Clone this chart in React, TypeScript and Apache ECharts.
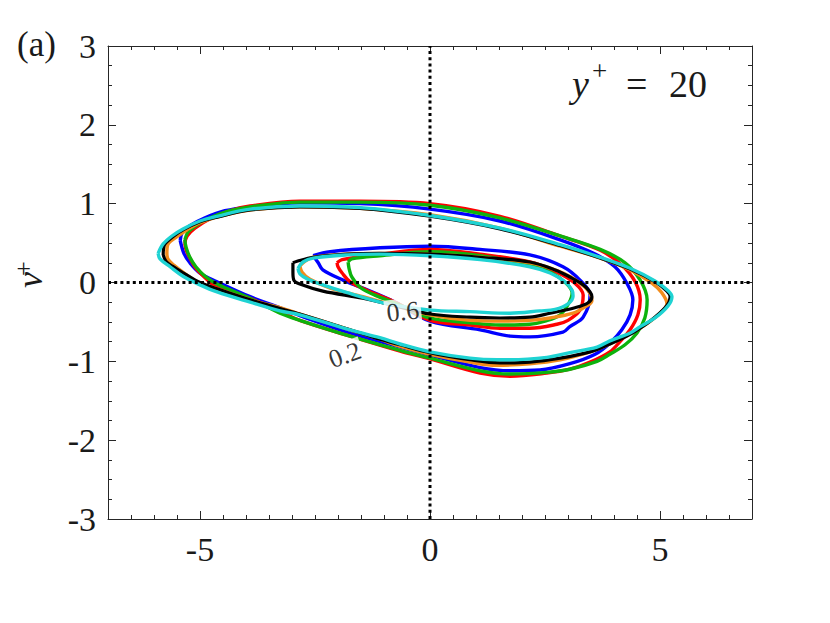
import React, { useEffect, useRef } from 'react';
import * as echarts from 'echarts';

// Tick labels
const xTickLabels = [-5, 0, 5];
const yTickLabels = [-3, -2, -1, 0, 1, 2, 3];

// Outer (0.2) contours
const outerBlue = [[-5.43,0.53],[-5.39,0.63],[-5.22,0.72],[-4.89,0.82],[-4.46,0.91],[-3.91,0.96],[-2.83,1.01],[-1.52,1.00],[0,0.93],[1.52,0.78],[2.83,0.54],[3.59,0.36],[4.02,0.20],[4.28,-0.01],[4.41,-0.22],[4.35,-0.41],[4.17,-0.60],[3.91,-0.77],[3.59,-0.91],[3.04,-1.03],[2.39,-1.11],[1.74,-1.12],[1.09,-1.08],[0,-0.92],[-0.65,-0.82],[-1.74,-0.64],[-2.83,-0.42],[-3.26,-0.32],[-3.91,-0.18],[-4.63,0.01],[-5.00,0.12],[-5.22,0.25],[-5.35,0.37]];
const outerRed = [[-5.33,0.50],[-5.28,0.59],[-5.11,0.69],[-4.78,0.81],[-4.35,0.91],[-3.91,0.97],[-2.83,1.03],[-1.52,1.03],[0,1.00],[1.52,0.84],[2.83,0.59],[3.70,0.41],[4.17,0.22],[4.46,0.01],[4.57,-0.22],[4.52,-0.41],[4.35,-0.60],[4.13,-0.75],[3.91,-0.88],[3.48,-1.01],[3.04,-1.10],[2.54,-1.15],[1.74,-1.19],[1.09,-1.15],[0,-0.97],[-0.65,-0.87],[-1.74,-0.68],[-2.83,-0.48],[-3.26,-0.37],[-3.91,-0.20],[-4.63,-0.06],[-4.89,0.06],[-5.09,0.18],[-5.22,0.31],[-5.30,0.41]];
const outerGreen = [[-5.33,0.54],[-5.26,0.64],[-5.07,0.73],[-4.78,0.82],[-4.35,0.91],[-3.91,0.96],[-2.83,1.02],[-1.52,1.02],[0,0.98],[1.52,0.82],[2.83,0.59],[3.70,0.42],[4.24,0.25],[4.57,0.03],[4.72,-0.22],[4.67,-0.45],[4.50,-0.64],[4.24,-0.79],[3.91,-0.91],[3.63,-1.00],[3.04,-1.10],[2.54,-1.14],[1.74,-1.16],[1.09,-1.12],[0,-0.96],[-0.65,-0.86],[-1.74,-0.68],[-2.83,-0.48],[-3.26,-0.39],[-3.91,-0.20],[-4.63,-0.02],[-4.89,0.08],[-5.09,0.20],[-5.22,0.32],[-5.30,0.44]];
const outerOrange = [[-5.72,0.37],[-5.70,0.48],[-5.50,0.58],[-5.28,0.67],[-5.00,0.76],[-4.63,0.83],[-3.91,0.92],[-2.83,0.96],[-1.52,0.94],[0,0.86],[1.52,0.69],[2.83,0.46],[3.70,0.31],[4.35,0.16],[4.83,-0.01],[5.04,-0.13],[5.15,-0.27],[5.00,-0.39],[4.67,-0.54],[4.35,-0.65],[3.91,-0.78],[3.48,-0.88],[2.83,-0.98],[2.17,-1.03],[1.46,-1.05],[0.87,-1.01],[0,-0.91],[-0.65,-0.81],[-1.09,-0.72],[-1.74,-0.60],[-2.83,-0.40],[-3.26,-0.32],[-3.91,-0.22],[-4.63,-0.08],[-5.00,-0.01],[-5.30,0.10],[-5.57,0.22],[-5.70,0.30]];
const outerBlack = [[-5.80,0.35],[-5.77,0.48],[-5.59,0.58],[-5.36,0.67],[-5.00,0.77],[-4.63,0.83],[-3.91,0.92],[-2.83,0.96],[-1.52,0.94],[0,0.84],[1.52,0.68],[2.83,0.47],[3.70,0.31],[4.35,0.17],[4.89,0.01],[5.15,-0.11],[5.22,-0.18],[5.15,-0.29],[4.89,-0.44],[4.57,-0.58],[4.28,-0.68],[3.91,-0.78],[3.48,-0.88],[2.83,-0.96],[2.17,-1.01],[1.52,-1.02],[0.87,-0.98],[0,-0.89],[-0.65,-0.79],[-1.09,-0.72],[-1.74,-0.60],[-2.83,-0.40],[-3.26,-0.33],[-3.91,-0.22],[-4.63,-0.08],[-5.00,0.00],[-5.33,0.11],[-5.61,0.21],[-5.74,0.27]];
const outerCyan = [[-5.91,0.37],[-5.80,0.49],[-5.61,0.59],[-5.37,0.68],[-5.00,0.78],[-4.63,0.84],[-3.91,0.93],[-2.83,0.97],[-1.52,0.95],[0,0.85],[1.52,0.69],[2.83,0.48],[3.70,0.32],[4.35,0.18],[4.89,0.02],[5.17,-0.10],[5.26,-0.18],[5.17,-0.30],[4.89,-0.45],[4.57,-0.56],[4.35,-0.64],[3.91,-0.74],[3.63,-0.82],[3.04,-0.89],[2.54,-0.95],[1.74,-0.98],[1.46,-0.98],[0.87,-0.96],[0,-0.88],[-0.65,-0.78],[-1.09,-0.70],[-1.74,-0.60],[-2.83,-0.41],[-3.26,-0.36],[-3.91,-0.25],[-4.63,-0.12],[-5.00,-0.03],[-5.37,0.08],[-5.65,0.20],[-5.87,0.30]];

// Inner (0.6) contours
const innerBlue = [[-2.54,0.34],[-2.17,0.39],[-1.09,0.44],[0,0.46],[1.09,0.42],[2.17,0.35],[2.89,0.20],[3.26,0.03],[3.48,-0.16],[3.33,-0.44],[3.04,-0.56],[2.89,-0.63],[2.17,-0.69],[1.74,-0.68],[1.09,-0.60],[0,-0.49],[-0.72,-0.26],[-1.46,-0.07],[-1.89,0.03],[-2.33,0.16],[-2.43,0.25]];
const innerRed = [[-2.02,0.25],[-1.91,0.29],[-1.09,0.36],[0,0.42],[1.09,0.36],[2.17,0.26],[2.76,0.13],[3.15,-0.01],[3.33,-0.16],[3.26,-0.35],[3.00,-0.48],[2.76,-0.53],[2.17,-0.58],[1.52,-0.58],[0.87,-0.54],[0,-0.48],[-0.72,-0.26],[-1.37,-0.10],[-1.74,0.01],[-1.91,0.12],[-2.00,0.20]];
const innerGreen = [[-1.78,0.26],[-1.70,0.30],[-1.09,0.34],[0,0.39],[1.09,0.34],[2.17,0.22],[2.65,0.12],[2.96,-0.01],[3.09,-0.13],[3.02,-0.26],[2.83,-0.41],[2.50,-0.49],[2.17,-0.53],[1.52,-0.54],[0.87,-0.51],[0,-0.45],[-0.72,-0.27],[-1.20,-0.16],[-1.52,-0.06],[-1.70,0.07],[-1.76,0.18]];
const innerOrange = [[-2.83,0.21],[-2.72,0.27],[-2.54,0.32],[-1.80,0.36],[-1.09,0.37],[0,0.36],[1.09,0.32],[2.17,0.25],[2.72,0.16],[3.09,0.06],[3.37,-0.06],[3.48,-0.14],[3.52,-0.23],[3.37,-0.31],[3.11,-0.39],[2.61,-0.45],[2.17,-0.48],[1.52,-0.49],[0.87,-0.48],[0,-0.41],[-0.72,-0.30],[-1.46,-0.18],[-2.17,-0.07],[-2.61,0.04],[-2.78,0.13]];
const innerBlack = [[-2.98,0.25],[-2.89,0.27],[-2.54,0.32],[-1.80,0.36],[-1.09,0.37],[0,0.36],[1.09,0.32],[2.17,0.26],[2.72,0.16],[3.04,0.07],[3.33,-0.03],[3.48,-0.12],[3.52,-0.18],[3.43,-0.26],[3.15,-0.32],[2.61,-0.39],[2.17,-0.44],[1.52,-0.45],[0.87,-0.44],[0,-0.40],[-0.72,-0.30],[-1.46,-0.20],[-2.33,-0.11],[-2.83,-0.02],[-2.96,0.03],[-2.98,0.13]];
const innerCyan = [[-2.87,0.18],[-2.76,0.26],[-2.54,0.31],[-1.80,0.35],[-1.09,0.36],[0,0.34],[1.09,0.29],[2.17,0.20],[2.61,0.12],[2.93,0.01],[3.09,-0.10],[3.11,-0.17],[3.00,-0.27],[2.72,-0.34],[2.39,-0.36],[1.74,-0.39],[0.87,-0.37],[0,-0.35],[-0.65,-0.30],[-1.09,-0.25],[-1.80,-0.13],[-2.33,-0.03],[-2.65,0.04],[-2.83,0.11]];

// Contour level labels: [x, y, text, rotation]
const contourLabels: [number, number, string, number][] = [
  [-1.85, -0.92, '0.2', 20],
  [-0.59, -0.37, '0.6', 6],
];

const FONT = "'Liberation Serif', 'DejaVu Serif', serif";
const AX = '#262626';
const TXT = '#1a1a1a';

const loops = [
  { name: 'blue', color: '#0000ff', outer: outerBlue, inner: innerBlue, width: 3.4 },
  { name: 'red', color: '#ff0000', outer: outerRed, inner: innerRed, width: 3.4 },
  { name: 'green', color: '#0db30d', outer: outerGreen, inner: innerGreen, width: 3.4 },
  { name: 'orange', color: '#f28c1c', outer: outerOrange, inner: innerOrange, width: 3.4 },
  { name: 'black', color: '#000000', outer: outerBlack, inner: innerBlack, width: 3.2 },
  { name: 'cyan', color: '#1fd3d3', outer: outerCyan, inner: innerCyan, width: 3.4 },
];

const close = (pts: number[][]) => [...pts, pts[0]];

export default function App() {
  const ref = useRef<HTMLDivElement>(null);
  useEffect(() => {
    const chart = echarts.init(ref.current!, null, { renderer: 'svg' });
    const series: any[] = [];
    loops.forEach((l) => {
      ['outer', 'inner'].forEach((k) => {
        series.push({
          type: 'line',
          name: `${l.name}-${k}`,
          xAxisIndex: 0,
          yAxisIndex: 0,
          data: close((l as any)[k]),
          showSymbol: false,
          symbol: 'none',
          smooth: 0.35,
          lineStyle: { color: l.color, width: l.width },
          silent: true,
        });
      });
    });
    const dotted = { color: '#000', width: 3, type: [3, 3.2] };
    series.push({
      type: 'scatter',
      xAxisIndex: 0,
      yAxisIndex: 0,
      z: 10,
      zlevel: 0,
      symbolSize: 1,
      itemStyle: { color: 'rgba(0,0,0,0)' },
      silent: true,
      data: contourLabels.map(([x, y, t, r]) => ({
        value: [x, y],
        label: {
          show: true,
          position: 'inside',
          formatter: t,
          rotate: r,
          fontFamily: FONT,
          fontSize: 26,
          color: '#000',
          backgroundColor: '#ffffff',
          padding: [0, 2],
        },
      })),
    });
    series.push({
      type: 'line', xAxisIndex: 0, yAxisIndex: 0, z: 12,
      data: [[-7, 0], [7, 0]], symbol: 'none', lineStyle: dotted, silent: true,
    });
    series.push({
      type: 'line', xAxisIndex: 0, yAxisIndex: 0, z: 12,
      data: [[0, -3], [0, 3]], symbol: 'none', lineStyle: dotted, silent: true,
    });

    const minorX = (position: string, labels: boolean) => ({
      gridIndex: 0,
      type: 'value',
      position,
      min: -7,
      max: 7,
      interval: 0.5,
      axisLine: { show: true, onZero: false, lineStyle: { color: AX, width: 1 } },
      axisTick: { show: true, inside: true, length: 4, lineStyle: { color: AX, width: 1 } },
      axisLabel: labels
        ? {
            show: true,
            margin: 13,
            color: TXT,
            fontFamily: FONT,
            fontSize: 34,
            formatter: (v: number) => (xTickLabels.some((t) => Math.abs(t - v) < 1e-9) ? String(Math.round(v)) : ''),
          }
        : { show: false },
      splitLine: { show: false },
    });
    const majorX = (position: string) => ({
      gridIndex: 1,
      type: 'value',
      position,
      min: -5,
      max: 5,
      interval: 5,
      axisLine: { show: false, onZero: false },
      axisTick: { show: true, inside: true, length: 8, lineStyle: { color: AX, width: 1 } },
      axisLabel: { show: false },
      splitLine: { show: false },
    });
    const yAx = (position: string, labels: boolean) => ({
      gridIndex: 0,
      type: 'value',
      position,
      min: -3,
      max: 3,
      interval: 1,
      axisLine: { show: true, onZero: false, lineStyle: { color: AX, width: 1 } },
      axisTick: { show: true, inside: true, length: 8, lineStyle: { color: AX, width: 1 } },
      minorTick: { show: true, splitNumber: 4, length: 4, lineStyle: { color: AX, width: 1 } },
      axisLabel: labels
        ? {
            show: true,
            margin: 12,
            color: TXT,
            fontFamily: FONT,
            fontSize: 34,
            formatter: (v: number) => {
              const m = yTickLabels.find((t) => Math.abs(t - v) < 1e-9);
              return m === undefined ? '' : String(m);
            },
          }
        : { show: false },
      splitLine: { show: false },
      minorSplitLine: { show: false },
    });

    const option: any = {
      animation: false,
      backgroundColor: '#ffffff',
      grid: [
        { left: 108, right: 78, top: 46, bottom: 104, containLabel: false },
        { left: 200, right: 170, top: 46, bottom: 104, containLabel: false },
      ],
      xAxis: [minorX('bottom', true), minorX('top', false), majorX('bottom'), majorX('top')],
      yAxis: [
        yAx('left', true),
        yAx('right', false),
        { gridIndex: 1, type: 'value', min: -3, max: 3, show: false },
      ],
      graphic: [
        {
          type: 'text', x: 17, y: 44,
          style: { text: '(a)', fontFamily: FONT, fontSize: 35, fill: TXT, verticalAlign: 'middle' },
        },
        {
          type: 'text', x: 572, y: 84,
          style: { text: 'y', fontFamily: FONT, fontStyle: 'italic', fontSize: 38, fill: TXT, verticalAlign: 'middle' },
        },
        {
          type: 'text', x: 592, y: 71,
          style: { text: '+', fontFamily: FONT, fontSize: 27, fill: TXT, verticalAlign: 'middle' },
        },
        {
          type: 'text', x: 626, y: 84,
          style: { text: '=', fontFamily: FONT, fontSize: 38, fill: TXT, verticalAlign: 'middle' },
        },
        {
          type: 'text', x: 669, y: 84,
          style: { text: '20', fontFamily: FONT, fontSize: 38, fill: TXT, verticalAlign: 'middle' },
        },
        {
          type: 'text', x: 48, y: 288, rotation: Math.PI / 2,
          style: { text: 'v', fontFamily: FONT, fontStyle: 'italic', fontSize: 36, fill: TXT, verticalAlign: 'bottom' },
        },
        {
          type: 'text', x: 36, y: 276, rotation: Math.PI / 2,
          style: { text: '+', fontFamily: FONT, fontSize: 26, fill: TXT, verticalAlign: 'bottom' },
        },
      ],
      series,
    };
    chart.setOption(option);
    return () => chart.dispose();
  }, []);
  return (
    <div
      ref={ref}
      style={{ position: 'fixed', left: 0, top: 0, width: 830, height: 623, background: '#fff' }}
    />
  );
}
